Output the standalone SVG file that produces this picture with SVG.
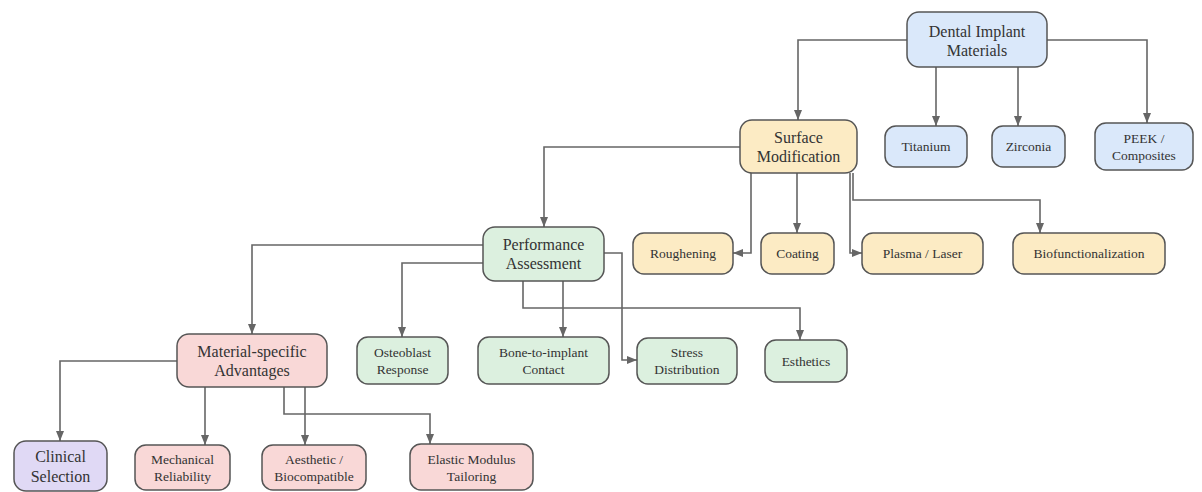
<svg xmlns="http://www.w3.org/2000/svg" width="1202" height="492" viewBox="0 0 1202 492">
<style>
.n rect{stroke:#555;stroke-width:1.5}
.blue rect{fill:#dae8fa}
.yel rect{fill:#fcebc4}
.grn rect{fill:#dcf0df}
.pnk rect{fill:#f9d8d7}
.pur rect{fill:#e0d9f5}
text{font-family:"Liberation Serif","Times New Roman",serif;fill:#333;text-anchor:middle;dominant-baseline:central}
.big{font-size:16px}
.sm{font-size:13.5px}
.c path{fill:none;stroke:#666;stroke-width:1.6;marker-end:url(#ah)}
</style>
<defs>
<marker id="ah" markerUnits="userSpaceOnUse" markerWidth="10" markerHeight="10" viewBox="0 0 10 10" refX="10" refY="5" orient="auto">
<path d="M0,1 L10,5 L0,9 Z" fill="#666"/>
</marker>
</defs>
<rect width="1202" height="492" fill="#fff"/>
<g class="c" id="connectors">
<path d="M907,40 H798 V120"/>
<path d="M936,67 V126"/>
<path d="M1018,67 V126"/>
<path d="M1047,40 H1147 V123"/>
<path d="M740,147 H544 V227"/>
<path d="M751,173 V253 H733"/>
<path d="M797,173 V233"/>
<path d="M850,173 V253 H862"/>
<path d="M853,173 V200 H1040 V233"/>
<path d="M483,245 H252 V334"/>
<path d="M483,263 H402 V337"/>
<path d="M523,281 V308 H800 V340"/>
<path d="M563,281 V337"/>
<path d="M604,253 H622 V360 H637"/>
<path d="M177,361 H60 V441"/>
<path d="M205,387 V445"/>
<path d="M305,387 V445"/>
<path d="M284,387 V414 H430 V444"/>
</g>
<g id="dental" class="n blue"><rect x="907" y="12" width="140" height="55" rx="12"/><text class="big" x="977" y="31">Dental Implant</text><text class="big" x="977" y="50">Materials</text></g>
<g id="titanium" class="n blue"><rect x="885" y="126" width="82" height="41" rx="11"/><text class="sm" x="926" y="146.5">Titanium</text></g>
<g id="zirconia" class="n blue"><rect x="992" y="126" width="73" height="41" rx="11"/><text class="sm" x="1028.5" y="146.5">Zirconia</text></g>
<g id="peek" class="n blue"><rect x="1095" y="123" width="98" height="47" rx="11"/><text class="sm" x="1144" y="138">PEEK /</text><text class="sm" x="1144" y="155">Composites</text></g>
<g id="surface" class="n yel"><rect x="740" y="120" width="117" height="53" rx="12"/><text class="big" x="798.5" y="137.5">Surface</text><text class="big" x="798.5" y="156.5">Modification</text></g>
<g id="roughening" class="n yel"><rect x="633" y="233" width="100" height="41" rx="11"/><text class="sm" x="683" y="253.5">Roughening</text></g>
<g id="coating" class="n yel"><rect x="761" y="233" width="73" height="41" rx="11"/><text class="sm" x="797.5" y="253.5">Coating</text></g>
<g id="plasma" class="n yel"><rect x="862" y="233" width="121" height="41" rx="11"/><text class="sm" x="922.5" y="253.5">Plasma / Laser</text></g>
<g id="bio" class="n yel"><rect x="1013" y="233" width="152" height="41" rx="11"/><text class="sm" x="1089" y="253.5">Biofunctionalization</text></g>
<g id="performance" class="n grn"><rect x="483" y="227" width="121" height="54" rx="12"/><text class="big" x="543.5" y="244.5">Performance</text><text class="big" x="543.5" y="263.5">Assessment</text></g>
<g id="osteoblast" class="n grn"><rect x="357" y="337" width="91" height="47" rx="11"/><text class="sm" x="402.5" y="352">Osteoblast</text><text class="sm" x="402.5" y="369">Response</text></g>
<g id="bone" class="n grn"><rect x="478" y="337" width="131" height="47" rx="11"/><text class="sm" x="543.5" y="352">Bone-to-implant</text><text class="sm" x="543.5" y="369">Contact</text></g>
<g id="stress" class="n grn"><rect x="637" y="338" width="100" height="46" rx="11"/><text class="sm" x="687" y="352.5">Stress</text><text class="sm" x="687" y="369.5">Distribution</text></g>
<g id="esthetics" class="n grn"><rect x="765" y="340" width="82" height="42" rx="11"/><text class="sm" x="806" y="361">Esthetics</text></g>
<g id="material" class="n pnk"><rect x="177" y="334" width="150" height="53" rx="12"/><text class="big" x="252" y="351.5">Material-specific</text><text class="big" x="252" y="370.5">Advantages</text></g>
<g id="clinical" class="n pur"><rect x="14" y="441" width="93" height="50" rx="12"/><text class="big" x="60.5" y="456">Clinical</text><text class="big" x="60.5" y="476">Selection</text></g>
<g id="mechanical" class="n pnk"><rect x="135" y="445" width="95" height="45" rx="11"/><text class="sm" x="182.5" y="459">Mechanical</text><text class="sm" x="182.5" y="476">Reliability</text></g>
<g id="aesthetic" class="n pnk"><rect x="262" y="445" width="104" height="45" rx="11"/><text class="sm" x="314" y="459">Aesthetic /</text><text class="sm" x="314" y="476">Biocompatible</text></g>
<g id="elastic" class="n pnk"><rect x="410" y="444" width="123" height="46" rx="11"/><text class="sm" x="471.5" y="459">Elastic Modulus</text><text class="sm" x="471.5" y="476">Tailoring</text></g>
</svg>
